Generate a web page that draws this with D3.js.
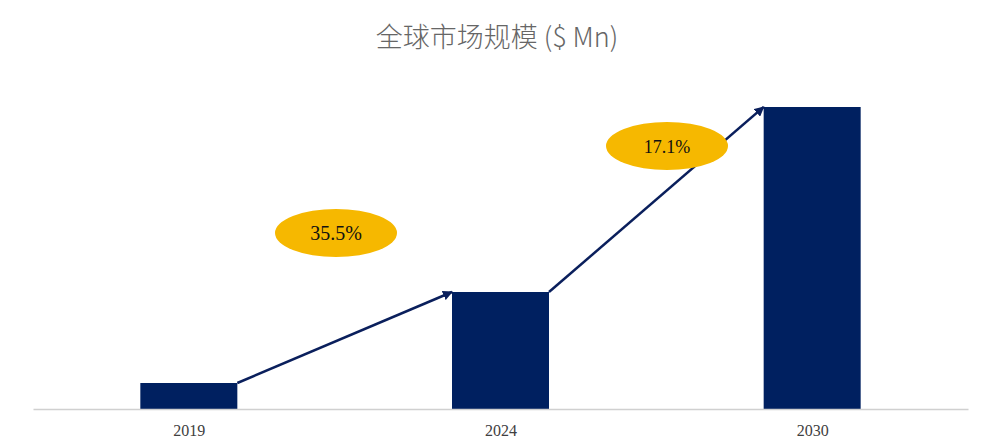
<!DOCTYPE html>
<html><head><meta charset="utf-8">
<script src="https://cdn.jsdelivr.net/npm/d3@7"></script>
<style>body{margin:0;background:#fff}</style>
</head><body>
<svg width="997" height="444"></svg>
<script>
const years = ['2019', '2024', '2030'];
const values = [26, 117, 302];
const cagrLabels = ['35.5%', '17.1%'];

const svg = d3.select('svg');
const x = d3.scalePoint().domain(years).range([33, 968]).padding(0.5);
const y = d3.scaleLinear().domain([0, 302]).range([409, 107]);
const bw = 97;

svg.append('text').attr('x', 497).attr('y', 47).attr('text-anchor', 'middle')
  .attr('font-family', 'Noto Sans CJK SC, serif').attr('font-size', 27).attr('font-weight', 300).attr('fill', '#666')
  .text('全球市场规模 ($ Mn)');

svg.append('defs').append('marker').attr('id', 'ah').attr('viewBox', '0 0 10 10')
  .attr('refX', 9).attr('refY', 5).attr('markerWidth', 4).attr('markerHeight', 4).attr('orient', 'auto')
  .append('path').attr('d', 'M0,0L10,5L0,10z').attr('fill', '#0a1f5c');

svg.selectAll('rect.bar').data(values).join('rect').attr('class', 'bar')
  .attr('x', (d, i) => x(years[i]) - bw / 2).attr('width', bw)
  .attr('y', d => y(d)).attr('height', d => y(0) - y(d)).attr('fill', '#002060');

const ax = svg.append('g').attr('transform', 'translate(0,409)')
  .call(d3.axisBottom(x).tickSize(0).tickPadding(16));
ax.select('.domain').attr('stroke', '#d0d0d0').attr('stroke-width', 1.5);
ax.selectAll('text').attr('font-family', 'Liberation Serif, serif').attr('font-size', 16).attr('fill', '#404040');

for (let i = 0; i < 2; i++) {
  const x1 = x(years[i]) + bw / 2, y1 = y(values[i]);
  const x2 = x(years[i + 1]) - bw / 2, y2 = y(values[i + 1]);
  svg.append('line').attr('x1', x1).attr('y1', y1).attr('x2', x2).attr('y2', y2)
    .attr('stroke', '#0a1f5c').attr('stroke-width', 2.5).attr('marker-end', 'url(#ah)');
}
const ell = [[336, 233], [667, 146]];
ell.forEach((c, i) => {
  svg.append('ellipse').attr('cx', c[0]).attr('cy', c[1]).attr('rx', 61).attr('ry', 24).attr('fill', '#f6b800');
  svg.append('text').attr('x', c[0]).attr('y', c[1] + 7).attr('text-anchor', 'middle')
    .attr('font-family', 'Liberation Serif, serif').attr('font-size', i ? 18 : 20).attr('fill', '#111')
    .text(cagrLabels[i]);
});
</script>
</body></html>
